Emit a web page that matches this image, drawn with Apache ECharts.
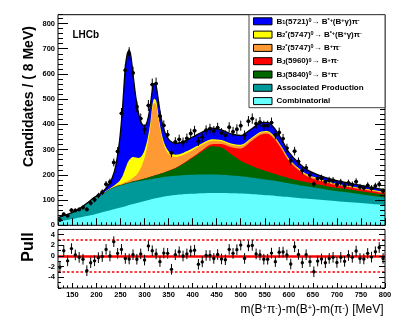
<!DOCTYPE html>
<html>
<head>
<meta charset="utf-8">
<script src="https://cdn.jsdelivr.net/npm/echarts@6/dist/echarts.min.js"></script>
<style>
  html, body { margin: 0; padding: 0; background: #fff; }
  #chart { width: 409px; height: 327px; }
</style>
</head>
<body>
<div id="chart"></div>
<script>
const FONT = "'Liberation Sans', Arial, sans-serif"

// fit components on a mass grid (MeV), stacked bottom -> top
const massGrid = [120,135,150,165,180,195,210,222,232,240,248,254,260,264,268,272,276,282,288,294,300,306,312,316,320,324,328,334,342,352,365,380,400,420,440,460,480,500,520,540,555,570,585,600,620,640,665,690,720,750,775,800]
const combinatorial = [15,20,25,31,37,43,51,57,62,66,70,73,76,78,80,82,84,87,90,93,96,99,102,104,106,107,109,111,114,117,120,123,125,127,128,128,127,126,124,121,119,117,114,112,108,105,101,97,92,88,84,80]
const assocProduction = [15,20,26,35,50,63,69,78,84,86,87,87,87,87,87,87,87,86,85,84,83,82,81,80,80,80,79,79,78,77,76,75,75,74,73,72,70,68,66,64,62,60,58,55,52,49,45,41,39,35,32,30]
const bj5840 = [0,0,0,0,0,0,0,1,1,2,2,2,3,3,3,3,4,4,5,6,7,8,9,10,11,12,13,15,18,23,31,45,68,92,112,108,85,62,48,38,32,27,23,20,18,16,15,13,13,12,12,11]
const bj5960 = [0,0,0,0,0,0,0,0,0,0,0,0,0,0,0,0,0,0,0,0,0,0,0,0,0,0,0,0,0,1,1,2,3,5,8,14,27,48,92,135,150,138,107,69,41,22,15,12,9,8,7,6]
const b2starBpi = [0,0,0,0,0,0,0,1,1,2,3,4,6,7,9,11,14,20,32,52,82,127,195,259,288,280,233,159,98,61,43,34,27,21,14,11,10,10,9,8,7,7,6,6,5,5,4,4,3,3,3,3]
const b2starBstarpi = [0,0,0,0,0,0,1,2,4,7,14,28,52,70,80,84,82,72,55,40,30,24,20,18,17,16,15,13,12,10,9,8,7,6,6,5,5,5,4,4,4,4,3,3,3,3,3,2,2,2,2,2]
const b1Bstarpi = [0,0,0,0,0,4,7,13,33,72,159,266,402,435,436,398,327,236,173,128,97,75,68,64,61,58,56,53,50,47,45,44,45,45,44,40,38,37,36,35,34,32,29,25,21,18,14,13,11,10,9,8]

// data, 8 MeV bins
const binCenters = [124,132,140,148,156,164,172,180,188,196,204,212,220,228,236,244,252,260,268,276,284,292,300,308,316,324,332,340,348,356,364,372,380,388,396,404,412,420,428,436,444,452,460,468,476,484,492,500,508,516,524,532,540,548,556,564,572,580,588,596,604,612,620,628,636,644,652,660,668,676,684,692,700,708,716,724,732,740,748,756,764,772,780,788,796]
const counts = [21,44,38,60,59,63,71,63,88,101,118,131,163,172,249,293,444,615,680,604,470,423,380,475,558,562,433,396,359,287,331,341,330,345,364,375,333,349,377,383,374,387,366,357,389,371,381,395,357,413,423,403,409,395,395,407,359,368,344,306,256,294,253,217,228,199,164,186,187,173,179,178,162,171,157,168,161,173,152,148,158,147,156,163,136]
const pulls = [-2.1,1.0,-0.9,1.4,0.2,-0.25,-0.6,-2.75,-1.25,-0.9,-0.3,-0.1,1.25,0.0,2.7,0.5,1.25,-0.45,-0.55,0.25,-0.6,0.4,-0.75,1.9,1.0,0.4,-1.05,0.55,0.5,-2.5,0.25,0.8,0.0,0.4,0.95,1.1,-1.55,-1.1,0.1,0.1,-0.45,0.3,-0.55,-0.7,1.25,0.5,1.2,2.05,-0.45,1.9,2.0,0.4,0.2,-0.6,-0.6,0.55,-1.05,0.7,0.75,0.2,-1.5,1.75,0.3,-1.25,0.25,-1.05,-2.95,-0.95,-0.55,-1.25,-0.45,-0.25,-1.2,-0.25,-1.0,0.1,-0.25,0.95,-0.45,-0.55,0.5,-0.2,0.8,1.6,-0.45]

// ticks
const xMajorTicks = [150,200,250,300,350,400,450,500,550,600,650,700,750,800]
const yMajorTicks = [0,100,200,300,400,500,600,700,800]
const pullTicks = [-4,-2,0,2,4]
const pullSigmaLines = [3, -3]

const components = [
  { name: 'Combinatorial', data: combinatorial, color: '#66ffff' },
  { name: 'Associated Production', data: assocProduction, color: '#009999' },
  { name: 'B{sub|J}(5840){sup|0}\u2192 B{sup|+}\u03c0{sup|-}', data: bj5840, color: '#006600' },
  { name: 'B{sub|J}(5960){sup|0}\u2192 B{sup|+}\u03c0{sup|-}', data: bj5960, color: '#ff0000' },
  { name: 'B{sub|2}{sup|*}(5747){sup|0}\u2192 B{sup|+}\u03c0{sup|-}', data: b2starBpi, color: '#ff9933' },
  { name: 'B{sub|2}{sup|*}(5747){sup|0}\u2192 B{sup|*+}(B{sup|+}\u03b3)\u03c0{sup|-}', data: b2starBstarpi, color: '#ffff00' },
  { name: 'B{sub|1}(5721){sup|0}\u2192 B{sup|*+}(B{sup|+}\u03b3)\u03c0{sup|-}', data: b1Bstarpi, color: '#0000ff' },
]

const richSmall = {
  sup: { fontSize: 5.5, fontWeight: 'bold', fontFamily: FONT, lineHeight: 6, verticalAlign: 'top' },
  sub: { fontSize: 5.5, fontWeight: 'bold', fontFamily: FONT, lineHeight: 6, verticalAlign: 'bottom' },
}

const tickStyle = { color: '#000', width: 1 }
function axis(extra) {
  const base = {
    type: 'value', z: 30, splitLine: { show: false },
    axisLine: { show: false, onZero: false },
    axisLabel: { show: false },
    axisTick: { show: true, inside: true, lineStyle: tickStyle },
  }
  return Object.assign(base, extra)
}
const labelStyle = { show: true, color: '#000', fontSize: 7.5, fontWeight: 'bold', fontFamily: FONT, margin: 3 }

const xAxes = [
  axis({ gridIndex: 0, position: 'bottom', min: 120, max: 800, interval: 10, axisTick: { show: true, inside: true, length: 3, lineStyle: tickStyle } }),
  axis({ gridIndex: 0, position: 'bottom', min: 120, max: 800, interval: 10, axisTick: { show: true, inside: true, length: 7, customValues: xMajorTicks, lineStyle: tickStyle } }),
  axis({ gridIndex: 1, position: 'bottom', min: 120, max: 800, interval: 10, axisTick: { show: true, inside: true, length: 2.5, lineStyle: tickStyle } }),
  axis({ gridIndex: 1, position: 'bottom', min: 120, max: 800, interval: 10,
    axisTick: { show: true, inside: true, length: 5, customValues: xMajorTicks, lineStyle: tickStyle },
    axisLabel: Object.assign({ customValues: xMajorTicks }, labelStyle) }),
]

const yAxes = []
;['left', 'right'].forEach(function (pos) {
  yAxes.push(axis({ gridIndex: 0, position: pos, min: 0, max: 835, interval: 20, axisTick: { show: true, inside: true, length: 5, lineStyle: tickStyle } }))
  yAxes.push(axis({ gridIndex: 0, position: pos, min: 0, max: 835, interval: 20,
    axisTick: { show: true, inside: true, length: 10, customValues: yMajorTicks, lineStyle: tickStyle },
    axisLabel: pos === 'left' ? Object.assign({ customValues: yMajorTicks }, labelStyle) : { show: false } }))
})
;['left', 'right'].forEach(function (pos) {
  yAxes.push(axis({ gridIndex: 1, position: pos, min: -6, max: 5, interval: 1, axisTick: { show: true, inside: true, length: 3, lineStyle: tickStyle } }))
  yAxes.push(axis({ gridIndex: 1, position: pos, min: -6, max: 5, interval: 1,
    axisTick: { show: true, inside: true, length: 6, customValues: pullTicks, lineStyle: tickStyle },
    axisLabel: pos === 'left' ? Object.assign({ customValues: pullTicks }, labelStyle) : { show: false } }))
})
// yAxes: 0,1 main left; 2,3 main right; 4,5 pull left; 6,7 pull right

// running sums of the components; every fill goes down to 0 and the lower
// sums are painted over the higher ones, which gives the stacked look
let running = massGrid.map(function () { return 0 })
const cumulative = components.map(function (c) {
  running = running.map(function (s, j) { return s + c.data[j] })
  return running
})
const fillSeries = components.map(function (c, i) {
  return {
    type: 'line', name: c.name, xAxisIndex: 0, yAxisIndex: 0,
    data: massGrid.map(function (m, j) { return [m, cumulative[i][j]] }),
    smooth: 0.3, symbol: 'none', showSymbol: false, silent: true,
    lineStyle: { width: 0 },
    areaStyle: { color: c.color, opacity: 1, origin: 'start' },
    z: 2 + components.length - i,
  }
})
const totalLine = {
  type: 'line', name: 'total', xAxisIndex: 0, yAxisIndex: 0,
  data: massGrid.map(function (m, j) { return [m, running[j]] }),
  smooth: 0.3, symbol: 'none', showSymbol: false, silent: true,
  lineStyle: { color: '#000', width: 1.3 },
  z: 12,
}

function errPoint(halfWidth, errFn, r) {
  return function (params, api) {
    const m = api.value(0), v = api.value(1), e = errFn(v)
    const p = api.coord([m, v])
    const lo = api.coord([m, v - e]), hi = api.coord([m, v + e])
    const children = [
      { type: 'line', shape: { x1: p[0], y1: lo[1], x2: p[0], y2: hi[1] }, style: { stroke: '#000', lineWidth: 1 } },
      { type: 'circle', shape: { cx: p[0], cy: p[1], r: r }, style: { fill: '#000' } },
    ]
    if (halfWidth > 0) {
      const l = api.coord([m - halfWidth, v]), rr = api.coord([m + halfWidth, v])
      children.push({ type: 'line', shape: { x1: l[0], y1: p[1], x2: rr[0], y2: p[1] }, style: { stroke: '#000', lineWidth: 1 } })
    }
    return { type: 'group', children: children }
  }
}

const dataSeries = {
  type: 'custom', xAxisIndex: 0, yAxisIndex: 0, z: 20, silent: true,
  encode: { x: 0, y: 1 },
  data: binCenters.map(function (m, i) { return [m, counts[i]] }),
  renderItem: errPoint(4, function (v) { return Math.sqrt(v) }, 1.9),
}

const pullRefSeries = {
  type: 'line', xAxisIndex: 2, yAxisIndex: 4, data: [], z: 5, silent: true,
  markLine: {
    silent: true, symbol: ['none', 'none'], label: { show: false }, animation: false,
    data: [{ yAxis: 0, lineStyle: { color: '#ff0000', width: 2.5, type: 'solid' } }].concat(
      pullSigmaLines.map(function (s) { return { yAxis: s, lineStyle: { color: '#ff0000', width: 1.6, type: [2.5, 2] } } })
    ),
  },
}

const pullSeries = {
  type: 'custom', xAxisIndex: 2, yAxisIndex: 4, z: 20, silent: true,
  encode: { x: 0, y: 1 },
  data: binCenters.map(function (m, i) { return [m, pulls[i]] }),
  renderItem: errPoint(0, function () { return 1 }, 1.7),
}

// legend (top to bottom = reverse stacking)
const legendRows = components.slice().reverse()
const legendGraphics = [
  { type: 'rect', shape: { x: 249, y: 14.7, width: 136, height: 93 }, style: { fill: '#fff', stroke: '#444', lineWidth: 1 }, z: 40 },
]
legendRows.forEach(function (c, i) {
  const yc = 21.3 + 13.3 * i
  legendGraphics.push({ type: 'rect', shape: { x: 253.5, y: yc - 3.5, width: 18.5, height: 7 }, style: { fill: c.color, stroke: '#000', lineWidth: 1 }, z: 41 })
  legendGraphics.push({ type: 'text', x: 276.5, y: yc, z: 41,
    style: { text: c.name, fill: '#000', font: 'bold 8px ' + FONT, align: 'left', verticalAlign: 'middle',
      rich: Object.assign({ b: { fontSize: 8, fontWeight: 'bold', fontFamily: FONT, lineHeight: 11 } }, richSmall) } })
})

const titleGraphics = [
  { type: 'text', x: 72.5, y: 35.7, z: 41, style: { text: 'LHCb', fill: '#000', font: 'bold 10px ' + FONT, align: 'left', verticalAlign: 'middle' } },
  { type: 'text', x: 29, y: 96.5, rotation: Math.PI / 2, z: 41, style: { text: 'Candidates / ( 8 MeV)', fill: '#000', font: 'bold 14px ' + FONT, align: 'center', verticalAlign: 'middle' } },
  { type: 'text', x: 29, y: 247, rotation: Math.PI / 2, z: 41, style: { text: 'Pull', fill: '#000', font: 'bold 16px ' + FONT, align: 'center', verticalAlign: 'middle' } },
  { type: 'text', x: 383.5, y: 310, z: 41,
    style: { text: 'm(B{sup|+}\u03c0{sup|-})-m(B{sup|+})-m(\u03c0{sup|-}) [MeV]', fill: '#000', font: '12px ' + FONT, align: 'right', verticalAlign: 'middle',
      rich: { sup: { fontSize: 7.5, fontFamily: FONT, lineHeight: 7, verticalAlign: 'top' } } } },
]

const option = {
  animation: false,
  backgroundColor: '#fff',
  grid: [
    { left: 58, right: 24, top: 14.7, height: 210.6, show: true, borderColor: '#000', borderWidth: 1, backgroundColor: 'transparent', z: 30 },
    { left: 58, right: 24, top: 229.4, height: 58.6, show: true, borderColor: '#000', borderWidth: 1, backgroundColor: 'transparent', z: 30 },
  ],
  xAxis: xAxes,
  yAxis: yAxes,
  series: fillSeries.concat([totalLine, dataSeries, pullRefSeries, pullSeries]),
  graphic: legendGraphics.concat(titleGraphics),
}

const chart = echarts.init(document.getElementById('chart'), null, { renderer: 'canvas' })
chart.setOption(option)
window.addEventListener('resize', function () { chart.resize() })
</script>
</body>
</html>
